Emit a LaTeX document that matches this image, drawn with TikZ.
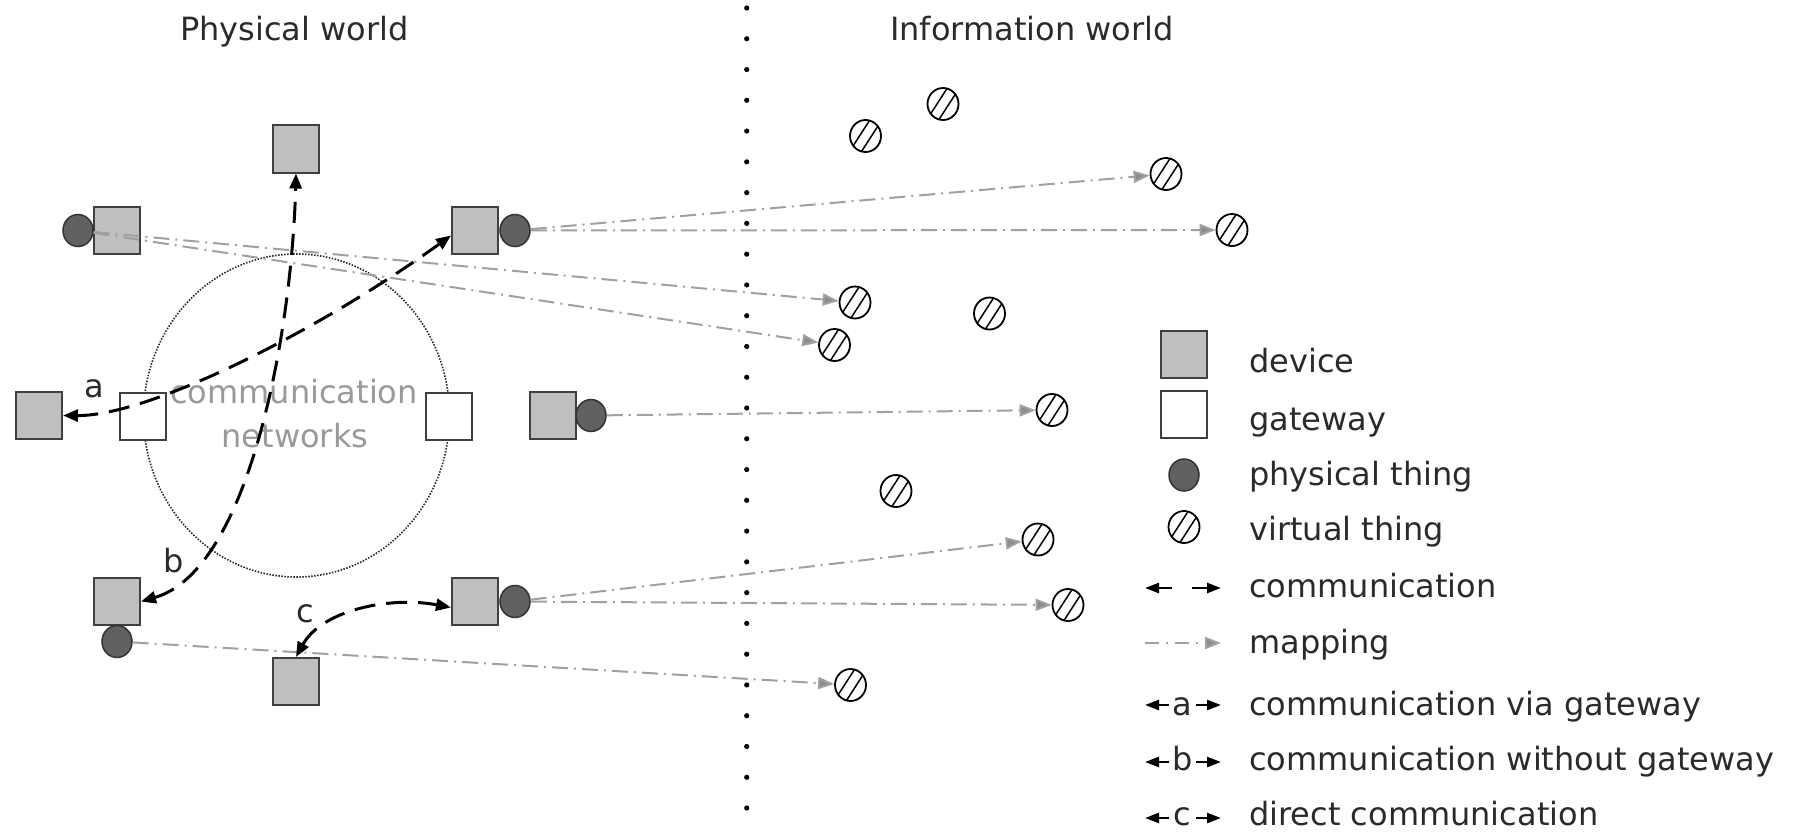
\documentclass[tikz,border=0pt]{standalone}
\usepackage{fontspec}
\setmainfont{DejaVu Sans}
\usetikzlibrary{arrows.meta,shapes.geometric}
\definecolor{devfill}{HTML}{BFBFBF}
\definecolor{devline}{HTML}{404040}
\definecolor{physfill}{HTML}{616161}
\definecolor{physline}{HTML}{333333}
\definecolor{mapcol}{HTML}{A0A0A0}
\definecolor{maptip}{HTML}{8C8C8C}
\definecolor{txt}{HTML}{2A2A2A}
\definecolor{nettxt}{HTML}{999999}
\tikzset{
  lbl/.style={font=\fontsize{32pt}{38pt}\selectfont, inner sep=0pt, text=txt},
  device/.style={rectangle, draw=devline, fill=devfill, line width=2pt,
    minimum width=46pt, minimum height=47pt, inner sep=0pt},
  gateway/.style={device, fill=white},
  phys/.style={ellipse, draw=physline, fill=physfill, line width=1.5pt,
    minimum width=30pt, minimum height=32pt, inner sep=0pt},
  vthing/.style={ellipse, draw=black, fill=white, line width=1.8pt,
    minimum width=31pt, minimum height=32pt, inner sep=0pt,
    path picture={\foreach \s in {-17pt,-5pt}
      \draw[line width=1.5pt] ([shift={(\s,-17pt)}]path picture bounding box.center) -- ++(22pt,34pt);}},
  comm/.style={line width=3pt, draw=black, dash pattern=on 21pt off 11pt,
    {Triangle[length=15pt,width=12pt]}-{Triangle[length=15pt,width=12pt]}},
  mapping/.style={line width=2pt, draw=mapcol, dash pattern=on 16pt off 6pt on 2pt off 6pt,
    -{Triangle[length=16pt,width=12pt,fill=maptip]}},
  legtip/.style={line width=2.5pt, draw=black, -{Triangle[length=14pt,width=10pt]}},
  dotline/.style={fill=black}
}
\begin{document}
\begin{tikzpicture}[x=1pt,y=-1pt]
\useasboundingbox (0,0) rectangle (1803,832);

% titles
\node[lbl, anchor=base] (tPW) at (294.5,41) {Physical world};
\node[lbl, anchor=base west] (tIW) at (890,41) {Information world};

% divider
\foreach \i in {0,...,26}
  \fill[dotline] (746.7,{8+\i*30.77}) circle (2.6pt);

% network cloud
\node[ellipse, draw=black!85, line width=1.6pt, dash pattern=on 1.5pt off 1.5pt,
  minimum width=306pt, minimum height=323pt, inner sep=0pt] (net) at (296.5,415.5) {};
\node[lbl, text=nettxt, anchor=base] (net1) at (294,403) {communication};
\node[lbl, text=nettxt, anchor=base] (net2) at (295,447) {networks};

% devices and things of the physical world
\node[device] (dTop) at (296,149) {};
\node[device] (dTL) at (117,230.5) {};
\node[phys] (pTL) at (78,230.5) {};
\node[device] (dTR) at (475,230.5) {};
\node[phys] (pTR) at (515,230.5) {};
\node[device] (dA) at (39,415.5) {};
\node[gateway] (gL) at (142.5,416.5) {};
\node[gateway] (gR) at (448.5,416.5) {};
\node[device] (dM) at (552.5,415.5) {};
\node[phys] (pM) at (591,415.5) {};
\node[device] (dB) at (117,601.5) {};
\node[phys] (pB) at (117,641.5) {};
\node[device] (dBot) at (296,681.5) {};
\node[device] (dBR) at (475,601.5) {};
\node[phys] (pBR) at (515,601.5) {};

% virtual things
\node[vthing] (v1) at (865.5,136) {};
\node[vthing] (v2) at (943,104) {};
\node[vthing] (v3) at (855,302.5) {};
\node[vthing] (v4) at (834.5,345) {};
\node[vthing] (v5) at (989.5,313.5) {};
\node[vthing] (v6) at (1052,410) {};
\node[vthing] (v7) at (896,491) {};
\node[vthing] (v8) at (1038,539.5) {};
\node[vthing] (v9) at (1068,605) {};
\node[vthing] (v10) at (850.5,685) {};
\node[vthing] (v11) at (1166,174) {};
\node[vthing] (v12) at (1232,230) {};

% mappings
\draw[mapping] (pTL) -- (v3);
\draw[mapping] (pTL) -- (v4);
\draw[mapping] (pTR) -- (v11);
\draw[mapping] (pTR) -- (v12);
\draw[mapping] (pM) -- (v6);
\draw[mapping] (pBR) -- (v8);
\draw[mapping] (pBR) -- (v9);
\draw[mapping] (pB) -- (v10);

% communications
\draw[comm] (dA.east) .. controls (150,416) and (320,330) .. ([yshift=-5pt]dTR.west);
\draw[comm] (dB.east) .. controls (250,570) and (292,330) .. (dTop.south);
\draw[comm] (dBot.north) .. controls (322,610) and (390,596) .. ([yshift=-6pt]dBR.west);
\node[lbl, anchor=base] (la) at (94.5,397) {a};
\node[lbl, anchor=base] (lb) at (174,572) {b};
\node[lbl, anchor=base] (lc) at (305,622) {c};

% legend symbols
\node[device] (lgDev) at (1184,354) {};
\node[gateway] (lgGw) at (1184,414) {};
\node[phys] (lgPh) at (1184,475) {};
\node[vthing] (lgVt) at (1184,527) {};

\coordinate (c0) at (1145,588); \coordinate (c1) at (1172,588);
\coordinate (c2) at (1192,588); \coordinate (c3) at (1221,588);
\draw[legtip] (c1) -- (c0);
\draw[legtip] (c2) -- (c3);

\coordinate (m0) at (1145,643); \coordinate (m1) at (1221,643);
\draw[mapping, dash pattern=on 14pt off 7pt on 2pt off 7pt] (m0) -- (m1);

\coordinate (a0) at (1145,705); \coordinate (a1) at (1169,705);
\coordinate (a2) at (1196,705); \coordinate (a3) at (1221,705);
\draw[legtip] (a1) -- (a0); \draw[legtip] (a2) -- (a3);
\node[lbl, anchor=base] (lgA) at (1182.5,715) {a};

\coordinate (b0) at (1145,762); \coordinate (b1) at (1169,762);
\coordinate (b2) at (1196,762); \coordinate (b3) at (1221,762);
\draw[legtip] (b1) -- (b0); \draw[legtip] (b2) -- (b3);
\node[lbl, anchor=base] (lgB) at (1182.5,770) {b};

\coordinate (k0) at (1145,818); \coordinate (k1) at (1169,818);
\coordinate (k2) at (1196,818); \coordinate (k3) at (1221,818);
\draw[legtip] (k1) -- (k0); \draw[legtip] (k2) -- (k3);
\node[lbl, anchor=base] (lgC) at (1182.5,825) {c};

% legend texts
\node[lbl, anchor=base west] (tDev) at (1249,372) {device};
\node[lbl, anchor=base west] (tGw) at (1249,430) {gateway};
\node[lbl, anchor=base west] (tPh) at (1249,485) {physical thing};
\node[lbl, anchor=base west] (tVt) at (1249,540) {virtual thing};
\node[lbl, anchor=base west] (tCo) at (1249,597) {communication};
\node[lbl, anchor=base west] (tMa) at (1249,653) {mapping};
\node[lbl, anchor=base west] (tVa) at (1249,715) {communication via gateway};
\node[lbl, anchor=base west] (tWo) at (1249,770) {communication without gateway};
\node[lbl, anchor=base west] (tDi) at (1249,825) {direct communication};
\end{tikzpicture}
\end{document}
